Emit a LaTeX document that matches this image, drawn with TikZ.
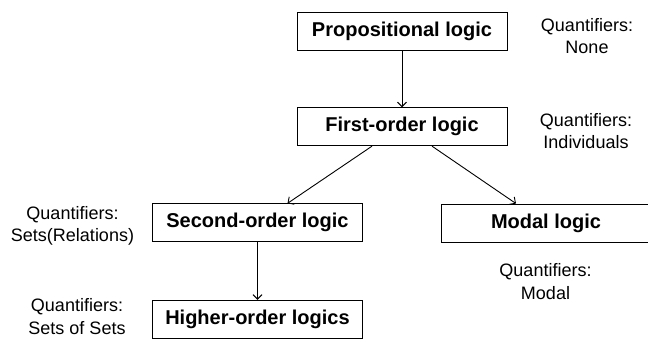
\documentclass[tikz,border=0pt]{standalone}
\usepackage{fontspec}
\setmainfont{Liberation Sans}
\usetikzlibrary{arrows.meta}
\begin{document}
\begin{tikzpicture}[x=1pt,y=-1pt,
  logicbox/.style={draw=black, line width=0.9pt, rectangle, minimum width=210pt,
    minimum height=38pt, inner sep=0pt,
    font=\fontsize{20}{24}\selectfont\bfseries},
  quant/.style={align=center, inner sep=0pt,
    font=\fontsize{18}{22.5}\selectfont},
  link/.style={line width=0.9pt, -{Straight Barb[length=4.5pt,width=9pt]}}]
  \useasboundingbox (0,0) rectangle (648,341);
  \clip (0,0) rectangle (648,341);

  % logic systems
  \node[logicbox] (prop)   at (402,31.3)  {Propositional logic};
  \node[logicbox] (first)  at (402,126.7) {First-order logic};
  \node[logicbox] (second) at (257.5,222.8) {Second-order logic};
  \node[logicbox] (modal)  at (546,223)   {Modal logic};
  \node[logicbox] (higher) at (257.5,319.2) {Higher-order logics};

  % quantifier annotations
  \node[quant] (qprop)   at (587,36)    {Quantifiers:\\None};
  \node[quant] (qfirst)  at (586,131)   {Quantifiers:\\Individuals};
  \node[quant] (qsecond) at (72.5,226)  {Quantifiers:\\Sets(Relations)};
  \node[quant] (qhigher) at (77,316.5)  {Quantifiers:\\Sets of Sets};
  \node[quant] (qmodal)  at (545.5,281.5) {Quantifiers:\\Modal};

  % extensions
  \draw[link] (prop.south) -- (first.north);
  \draw[link] ([xshift=-30pt]first.south) -- ([xshift=30pt]second.north);
  \draw[link] ([xshift=30pt]first.south) -- ([xshift=-30pt]modal.north);
  \draw[link] (second.south) -- (higher.north);
\end{tikzpicture}
\end{document}
